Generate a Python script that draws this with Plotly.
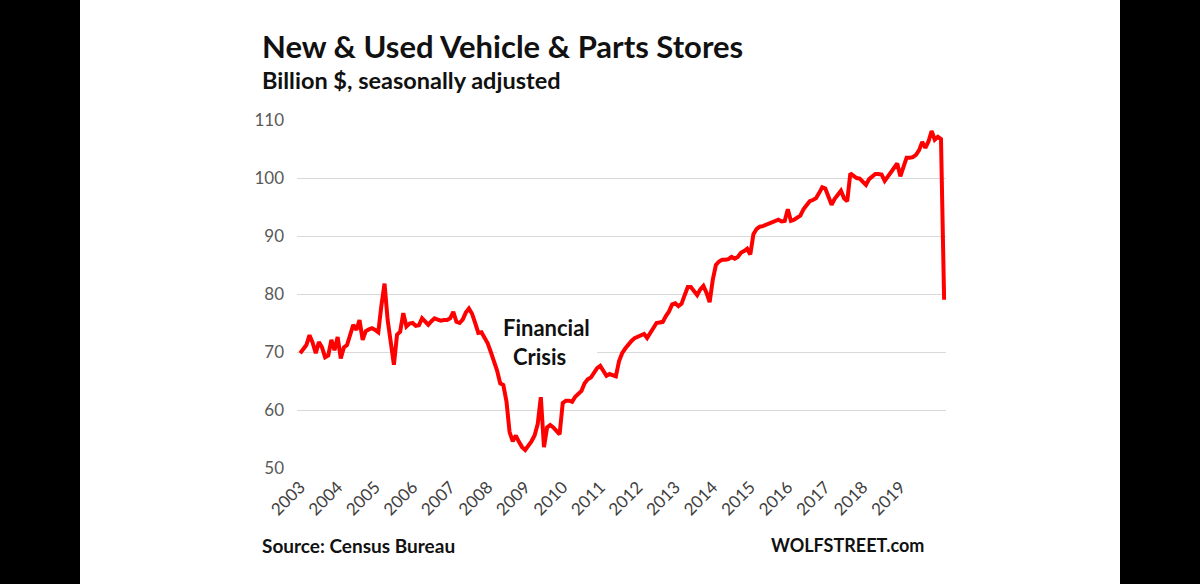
import numpy as np
import plotly.graph_objects as go

# ---- data (billion $, seasonally adjusted, monthly from Jan 2003) ----
v2003 = [69.8, 70.4, 71.2, 72.9, 71.6, 69.8, 71.7, 70.8, 69.1, 69.4, 72.1, 70.3]
v2004 = [72.6, 68.9, 70.8, 71.2, 72.8, 74.7, 73.8, 75.5, 72.1, 73.6, 73.9, 74.1]
v2005 = [73.8, 73.4, 78.0, 81.8, 75.5, 71.0, 67.8, 73.0, 73.5, 76.7, 74.4, 74.9]
v2006 = [75.0, 74.5, 74.6, 75.8, 75.3, 74.7, 75.3, 75.8, 75.6, 75.4, 75.5, 75.5]
v2007 = [75.8, 76.9, 75.2, 75.0, 75.6, 76.8, 77.5, 76.6, 75.0, 73.3, 73.4, 72.6]
v2008 = [71.5, 70.0, 68.5, 66.8, 64.6, 64.3, 61.5, 56.2, 54.6, 55.6, 54.5, 53.6]
v2009 = [53.1, 53.8, 54.6, 55.6, 57.6, 62.2, 53.6, 57.0, 57.4, 57.0, 56.4, 55.8]
v2010 = [61.2, 61.6, 61.6, 61.4, 62.3, 62.8, 63.3, 64.6, 65.3, 65.6, 66.4, 67.2]
v2011 = [67.6, 66.6, 65.9, 66.2, 66.0, 65.8, 68.4, 69.8, 70.6, 71.4, 71.9, 72.4]
v2012 = [72.6, 72.9, 73.1, 72.4, 73.3, 74.0, 75.0, 75.1, 75.2, 76.2, 77.0, 78.2]
v2013 = [78.4, 77.9, 78.3, 79.8, 81.2, 81.2, 80.5, 79.8, 80.8, 81.4, 80.2, 78.6]
v2014 = [82.5, 85.0, 85.6, 85.9, 85.9, 86.0, 86.4, 86.1, 86.4, 87.1, 87.4, 87.8]
v2015 = [86.8, 90.3, 91.2, 91.6, 91.7, 91.9, 92.1, 92.4, 92.5, 92.8, 92.5, 92.6]
v2016 = [94.6, 92.6, 92.8, 93.2, 93.5, 94.6, 95.3, 96.0, 96.2, 96.5, 97.4, 98.4]
v2017 = [98.2, 96.6, 95.4, 96.4, 97.0, 97.8, 96.5, 96.0, 100.8, 100.3, 100.0, 99.9]
v2018 = [99.3, 98.8, 99.8, 100.3, 100.7, 100.7, 100.6, 99.5, 100.2, 100.9, 101.6, 102.5]
v2019 = [100.3, 102.0, 103.5, 103.5, 103.6, 104.0, 104.8, 106.2, 105.2, 106.3, 108.1, 106.6]
v2020 = [107.1, 106.7, 79.0]

tick_years = ["2003", "2004", "2005", "2006", "2007", "2008", "2009", "2010",
              "2011", "2012", "2013", "2014", "2015", "2016", "2017", "2018", "2019"]
y_ticks = [50, 60, 70, 80, 90, 100, 110]

values = (v2003 + v2004 + v2005 + v2006 + v2007 + v2008 + v2009 + v2010 + v2011 +
          v2012 + v2013 + v2014 + v2015 + v2016 + v2017 + v2018 + v2019 + v2020)
months = np.arange(len(values))
tickvals = [12 * k for k in range(len(tick_years))]

# ---- layout geometry ----
W, H = 1200, 584
ML, MR, MT, MB = 297, 254, 120, 116
PW = W - ML - MR
PH = H - MT - MB
XR = [-1.0, 206.6]
YR = [50, 110]


def px(x):
    return (x - ML) / PW


def py(y):
    return 1 - (y - MT) / PH


def xd(p):
    return XR[0] + (p - ML) / PW * (XR[1] - XR[0])


def yd(p):
    return YR[1] - (p - MT) / PH * (YR[1] - YR[0])


FONT = "Lato"

fig = go.Figure()
fig.add_trace(go.Scatter(
    x=months, y=values, mode="lines",
    line=dict(color="#ff0000", width=4),
    hoverinfo="skip", showlegend=False,
))

shapes = [
    # white canvas between the black side bars
    dict(type="rect", xref="paper", yref="paper",
         x0=px(80), x1=px(1120), y0=py(H), y1=py(0),
         fillcolor="white", line=dict(width=0), layer="below"),
    # white box behind the annotation (interrupts the gridline)
    dict(type="rect", xref="x", yref="y",
         x0=xd(497), x1=xd(597), y0=yd(370), y1=yd(340),
         fillcolor="white", line=dict(width=0), layer="between"),
]

annotations = [
    dict(text="<b>New &amp; Used Vehicle &amp; Parts Stores</b>", x=px(260), y=py(46),
         xref="paper", yref="paper", xanchor="left", yanchor="middle", showarrow=False,
         font=dict(family=FONT, size=31, color="#111111")),
    dict(text="<b>Billion $, seasonally adjusted</b>", x=px(260), y=py(80),
         xref="paper", yref="paper", xanchor="left", yanchor="middle", showarrow=False,
         font=dict(family=FONT, size=23.5, color="#111111")),
    dict(text="<b>Financial</b>", x=px(546), y=py(327),
         xref="paper", yref="paper", xanchor="center", yanchor="middle", showarrow=False,
         font=dict(family=FONT, size=22, color="#111111")),
    dict(text="<b>Crisis</b>", x=px(539), y=py(356),
         xref="paper", yref="paper", xanchor="center", yanchor="middle", showarrow=False,
         font=dict(family=FONT, size=22, color="#111111")),
    dict(text="<b>Source: Census Bureau</b>", x=px(260), y=py(545),
         xref="paper", yref="paper", xanchor="left", yanchor="middle", showarrow=False,
         font=dict(family=FONT, size=19, color="#111111")),
    dict(text="<b>WOLFSTREET.com</b>", x=px(926), y=py(545),
         xref="paper", yref="paper", xanchor="right", yanchor="middle", showarrow=False,
         font=dict(family=FONT, size=18, color="#111111")),
]

fig.update_layout(
    width=W, height=H,
    margin=dict(l=ML, r=MR, t=MT, b=MB, pad=0),
    paper_bgcolor="black",
    plot_bgcolor="white",
    shapes=shapes,
    annotations=annotations,
    showlegend=False,
    xaxis=dict(
        range=XR, tickmode="array", tickvals=tickvals, ticktext=tick_years,
        tickangle=-45, showgrid=False, zeroline=False, showline=False, ticks="",
        tickfont=dict(family=FONT, size=17, color="#404040"),
        ticklabelstandoff=5,
    ),
    yaxis=dict(
        range=YR, tickmode="array", tickvals=y_ticks,
        showgrid=True, gridcolor="#d9d9d9", gridwidth=1,
        zeroline=False, showline=False, ticks="",
        tickfont=dict(family=FONT, size=17, color="#595959"),
        ticklabelstandoff=12,
    ),
)

fig.write_html("out.html")
